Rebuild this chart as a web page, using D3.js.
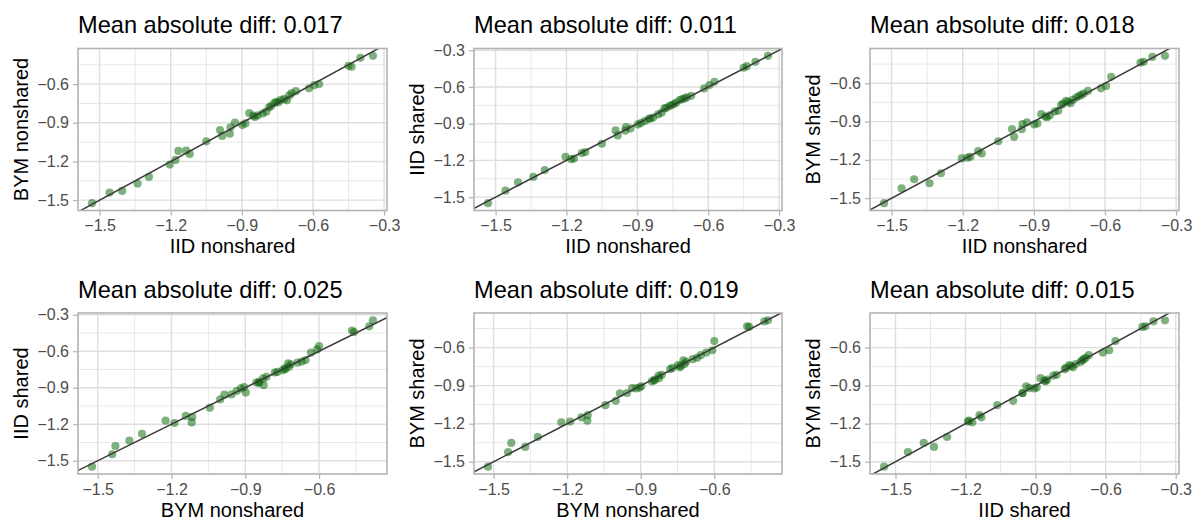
<!DOCTYPE html>
<html>
<head>
<meta charset="utf-8">
<script src="https://cdn.jsdelivr.net/npm/d3@7"></script>
<style>
  html, body { margin: 0; padding: 0; background: #ffffff; }
  svg { display: block; font-family: "Liberation Sans", Arial, sans-serif; }
</style>
</head>
<body>
<svg id="chart" width="1193" height="523"></svg>
<script>
// Area-level estimates from four model fits (one entry per area, same order in every array)
const iidNonshared = [-1.532, -1.458, -1.405, -1.340, -1.292, -1.204, -1.180, -1.168, -1.135, -1.120,
  -1.050, -0.992, -0.983, -0.951, -0.948, -0.929, -0.898, -0.885, -0.869, -0.852,
  -0.845, -0.833, -0.812, -0.797, -0.785, -0.777, -0.764, -0.755, -0.745, -0.736,
  -0.721, -0.710, -0.700, -0.690, -0.672, -0.617, -0.595, -0.574, -0.450, -0.437,
  -0.400, -0.347];
const bymNonshared = [-1.523, -1.441, -1.428, -1.371, -1.320, -1.224, -1.188, -1.118, -1.116, -1.142,
  -1.044, -0.956, -1.002, -0.985, -0.935, -0.898, -0.918, -0.905, -0.825, -0.845,
  -0.855, -0.843, -0.827, -0.814, -0.780, -0.770, -0.748, -0.737, -0.740, -0.722,
  -0.715, -0.726, -0.688, -0.670, -0.655, -0.633, -0.608, -0.600, -0.458, -0.466,
  -0.396, -0.381];
const iidShared = [-1.549, -1.447, -1.379, -1.335, -1.279, -1.171, -1.190, -1.185, -1.140, -1.132,
  -1.064, -0.955, -0.996, -0.957, -0.927, -0.940, -0.906, -0.895, -0.879, -0.862,
  -0.857, -0.850, -0.824, -0.810, -0.775, -0.770, -0.756, -0.748, -0.740, -0.728,
  -0.707, -0.700, -0.694, -0.685, -0.672, -0.612, -0.585, -0.558, -0.443, -0.430,
  -0.395, -0.346];
const bymShared = [-1.539, -1.424, -1.352, -1.383, -1.305, -1.189, -1.183, -1.176, -1.132, -1.150,
  -1.054, -0.958, -1.020, -0.960, -0.919, -0.905, -0.922, -0.915, -0.841, -0.860,
  -0.866, -0.852, -0.821, -0.815, -0.770, -0.760, -0.738, -0.745, -0.756, -0.730,
  -0.712, -0.700, -0.691, -0.680, -0.660, -0.639, -0.621, -0.549, -0.437, -0.432,
  -0.393, -0.385];

const seriesByName = {
  "IID nonshared": iidNonshared,
  "BYM nonshared": bymNonshared,
  "IID shared": iidShared,
  "BYM shared": bymShared
};

// Each panel compares two fits: [x variable, y variable]
const panelPairs = [
  ["IID nonshared", "BYM nonshared"],
  ["IID nonshared", "IID shared"],
  ["IID nonshared", "BYM shared"],
  ["BYM nonshared", "IID shared"],
  ["BYM nonshared", "BYM shared"],
  ["IID shared", "BYM shared"]
];
const meanAbsDiff = ["0.017", "0.011", "0.018", "0.025", "0.019", "0.015"];

const majorTicks = [-1.5, -1.2, -0.9, -0.6, -0.3];
const minorTicks = [-1.65, -1.35, -1.05, -0.75, -0.45, -0.15];

// Panel grid geometry
const colLeft = [78, 474, 870];
const colRight = [387, 782, 1179];
const rowTop = [48.5, 313];
const rowBottom = [210.5, 474];

const svg = d3.select("#chart");
const fmt = d3.format(".1f");

function expanded(values) {
  const [lo, hi] = d3.extent(values);
  const pad = (hi - lo) * 0.05;
  return [lo - pad, hi + pad];
}

panelPairs.forEach(([xName, yName], i) => {
  const col = i % 3, row = Math.floor(i / 3);
  const L = colLeft[col], R = colRight[col], T = rowTop[row], B = rowBottom[row];
  const xs = seriesByName[xName], ys = seriesByName[yName];

  const x = d3.scaleLinear().domain(expanded(xs)).range([L, R]);
  const y = d3.scaleLinear().domain(expanded(ys)).range([B, T]);
  const xd = x.domain(), yd = y.domain();
  const inX = v => v >= xd[0] && v <= xd[1];
  const inY = v => v >= yd[0] && v <= yd[1];

  const g = svg.append("g");
  const clipId = "clip" + i;
  svg.append("clipPath").attr("id", clipId)
    .append("rect").attr("x", L).attr("y", T).attr("width", R - L).attr("height", B - T);

  // grid
  const grid = g.append("g");
  grid.selectAll(".xminor").data(minorTicks.filter(inX)).join("line")
    .attr("x1", d => x(d)).attr("x2", d => x(d)).attr("y1", T).attr("y2", B)
    .attr("stroke", "#dedede").attr("stroke-width", 0.7);
  grid.selectAll(".yminor").data(minorTicks.filter(inY)).join("line")
    .attr("y1", d => y(d)).attr("y2", d => y(d)).attr("x1", L).attr("x2", R)
    .attr("stroke", "#dedede").attr("stroke-width", 0.7);
  grid.selectAll(".xmajor").data(majorTicks.filter(inX)).join("line")
    .attr("x1", d => x(d)).attr("x2", d => x(d)).attr("y1", T).attr("y2", B)
    .attr("stroke", "#dedede").attr("stroke-width", 1.4);
  grid.selectAll(".ymajor").data(majorTicks.filter(inY)).join("line")
    .attr("y1", d => y(d)).attr("y2", d => y(d)).attr("x1", L).attr("x2", R)
    .attr("stroke", "#dedede").attr("stroke-width", 1.4);

  // points
  const plot = g.append("g").attr("clip-path", `url(#${clipId})`);
  plot.selectAll("circle").data(xs.map((v, k) => [v, ys[k]])).join("circle")
    .attr("cx", d => x(d[0])).attr("cy", d => y(d[1])).attr("r", 4.1)
    .attr("fill", "#006400").attr("fill-opacity", 0.5);

  // identity line
  const lo = Math.min(xd[0], yd[0]), hi = Math.max(xd[1], yd[1]);
  plot.append("line")
    .attr("x1", x(lo)).attr("y1", y(lo)).attr("x2", x(hi)).attr("y2", y(hi))
    .attr("stroke", "#3a3a3a").attr("stroke-width", 1.5);

  // border
  g.append("rect").attr("x", L).attr("y", T).attr("width", R - L).attr("height", B - T)
    .attr("fill", "none").attr("stroke", "#b3b3b3").attr("stroke-width", 1.6);

  // axes
  const xAxis = d3.axisBottom(x).tickValues(majorTicks.filter(inX)).tickFormat(fmt)
    .tickSize(5).tickPadding(4);
  const yAxis = d3.axisLeft(y).tickValues(majorTicks.filter(inY)).tickFormat(fmt)
    .tickSize(5).tickPadding(4);
  const gx = g.append("g").attr("transform", `translate(0,${B})`).call(xAxis);
  const gy = g.append("g").attr("transform", `translate(${L},0)`).call(yAxis);
  [gx, gy].forEach(a => {
    a.select(".domain").remove();
    a.selectAll(".tick line").attr("stroke", "#b3b3b3").attr("stroke-width", 1.2);
    a.selectAll(".tick text").attr("fill", "#4d4d4d")
      .style("font-size", "16px").style("font-family", '"Liberation Sans", Arial, sans-serif');
  });
  gx.selectAll(".tick text").attr("dy", "0.72em");

  // titles
  g.append("text").attr("x", L).attr("y", rowTop[row] - 15.5)
    .attr("fill", "#000").style("font-size", "23.6px").text("Mean absolute diff: " + meanAbsDiff[i]);
  g.append("text").attr("x", (L + R) / 2).attr("y", B + 42.5).attr("text-anchor", "middle")
    .attr("fill", "#000").style("font-size", "20px").text(xName);
  g.append("text").attr("transform", `translate(${L - 50.5},${(T + B) / 2}) rotate(-90)`)
    .attr("text-anchor", "middle").attr("fill", "#000").style("font-size", "20px").text(yName);
});
</script>
</body>
</html>
